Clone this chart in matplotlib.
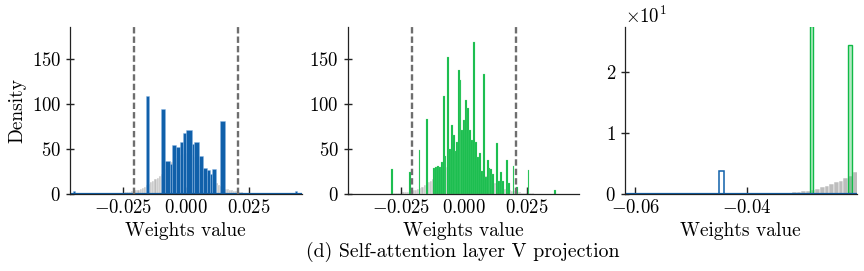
import numpy as np
import matplotlib
matplotlib.use("Agg")
import matplotlib.pyplot as plt
from matplotlib.ticker import MultipleLocator

plt.rcParams['font.family'] = 'serif'
plt.rcParams['font.serif'] = ['cmr10']
plt.rcParams['mathtext.fontset'] = 'cm'
plt.rcParams['axes.formatter.use_mathtext'] = True
plt.rcParams['font.size'] = 13.5

# original weights (grey), density on a fine regular grid
GREY_LO, GREY_HI = -0.04197, 0.04203
grey_density = [
    0.03, 0.04, 0.05, 0.06, 0.07, 0.08, 0.10, 0.12, 0.14, 0.17, 0.20, 0.24, 0.30,
    0.38, 0.44, 0.55, 0.66, 0.87, 1.09, 1.37, 1.58, 1.91, 2.19, 2.57, 2.95, 3.56,
    4.2, 4.9, 5.9, 7.0,
    8.2, 9.6, 11.2, 12.9, 14.6, 16.4, 18.2, 20.2, 22.4, 24.8,
    27.3, 29.9, 32.5, 35.0, 37.4, 39.6, 41.5, 43.1, 44.3, 45.0, 45.0, 44.3, 43.0,
    41.0, 38.5, 35.5, 32.0, 28.5, 25.0, 22.0, 19.5, 17.5, 15.5,
    13.6, 11.8, 10.0, 8.5, 7.1, 6.1, 5.3, 4.6, 4.0, 3.5, 3.0, 2.6, 2.2, 1.9, 1.5, 1.3, 1.1,
    0.9, 0.75, 0.62, 0.52, 0.43, 0.36, 0.30, 0.25, 0.21, 0.17, 0.14, 0.12, 0.10, 0.08,
    0.07, 0.06, 0.05, 0.04, 0.03, 0.03,
]

# quantized weights, method A (blue)
blue_left = [-0.0449, -0.0160, -0.0099, -0.0082, -0.0065, -0.0056, -0.0040, -0.0023,
             -0.0012, 0.0001, 0.0023, 0.0032, 0.0049, 0.0065, 0.0081, 0.0095, 0.0102,
             0.0136, 0.0430]
blue_right = [-0.0441, -0.01455, -0.0085, -0.0065, -0.0056, -0.0040, -0.0023, -0.0012,
              0.0001, 0.0023, 0.0032, 0.0049, 0.0065, 0.0081, 0.0095, 0.0102, 0.0118,
              0.0152, 0.0438]
blue_density = [3.8, 108.4, 94.6, 36.7, 33.8, 54.8, 52.2, 57.7, 67.6, 71.3, 55.1, 57.3,
                42.0, 28.3, 26.5, 21.7, 27.2, 80.8, 3.7]

# quantized weights, method B (green)
green_center = [-0.02837, -0.02147, -0.01754, -0.01452, -0.01194, -0.01115, -0.01036,
                -0.00956, -0.00877, -0.00802, -0.00726, -0.00627, -0.00552, -0.00476,
                -0.00401, -0.00325, -0.00274, -0.00198, -0.00131, -0.00060, 0.00012,
                0.00087, 0.00163, 0.00238, 0.00306, 0.00405, 0.00480, 0.00556, 0.00631,
                0.00706, 0.00790, 0.00865, 0.00940, 0.01016, 0.01091, 0.01159, 0.01306,
                0.01397, 0.01476, 0.01536, 0.01694, 0.01774, 0.01968, 0.02091, 0.02560,
                0.03599]
green_density = [27.6, 24.5, 49.0, 83.0, 29.0, 30.0, 31.0, 30.0, 36.0, 108.0, 42.0,
                 152.0, 50.0, 76.0, 65.0, 48.0, 58.0, 137.0, 126.0, 71.0, 82.0, 104.0,
                 95.0, 71.0, 60.0, 168.0, 58.0, 41.0, 45.0, 25.0, 132.6, 19.0, 38.0,
                 29.0, 28.0, 22.0, 56.0, 14.0, 24.0, 14.0, 38.0, 12.0, 31.0, 8.0, 27.0,
                 4.7]

clip_bound = 0.0205

BLUE = '#1060aa'
GREEN = '#0fba46'
GREY = '#bdbdbd'
GREEN_W = 0.00075


def draw_grey(ax):
    edges = np.linspace(GREY_LO, GREY_HI, len(grey_density) + 1)
    ax.bar(edges[:-1], grey_density, width=np.diff(edges), align='edge',
           color=GREY, edgecolor='white', linewidth=0.35, zorder=1)


def style(ax):
    for s in ['top', 'right']:
        ax.spines[s].set_visible(False)
    for s in ['left', 'bottom']:
        ax.spines[s].set_color('#222222')
        ax.spines[s].set_linewidth(0.9)
    ax.tick_params(axis='x', direction='in', length=5, width=1, color='#222222')
    ax.tick_params(axis='y', direction='inout', length=6, width=1, color='#222222')
    ax.set_xlabel('Weights value', fontsize=14)


fig = plt.figure(figsize=(8.64, 2.71), dpi=100)
w, h, b = 0.268, 0.616, 0.284
ax1 = fig.add_axes([0.081, b, w, h])
ax2 = fig.add_axes([0.4024, b, w, h])
ax3 = fig.add_axes([0.7234, b, w, h])

# panel 1
draw_grey(ax1)
ax1.bar(blue_left, blue_density, width=np.subtract(blue_right, blue_left), align='edge',
        color=BLUE, edgecolor=(0.55, 0.72, 0.9, 0.6), linewidth=0.5, zorder=2)
ax1.axhline(0, color=BLUE, lw=1.6, zorder=2)
ax1.set_ylabel('Density', fontsize=14)

# panel 2
draw_grey(ax2)
ax2.bar(green_center, green_density, width=GREEN_W, color=GREEN,
        edgecolor=(0.5, 0.88, 0.6, 0.6), linewidth=0.3, zorder=2)

for ax in (ax1, ax2):
    for xv in (-clip_bound, clip_bound):
        ax.axvline(xv, color='#6e6e6e', lw=1.7, ls=(0, (2.7, 1.3)), zorder=3)
    ax.set_xlim(-0.046, 0.0457)
    ax.set_ylim(0, 184.8)
    ax.xaxis.set_major_locator(MultipleLocator(0.025))
    ax.yaxis.set_major_locator(MultipleLocator(50))
    style(ax)

# panel 3: zoom into the left tail
draw_grey(ax3)
ax3.bar(blue_left, blue_density, width=np.subtract(blue_right, blue_left), align='edge',
        facecolor=(1, 1, 1, 0.9), edgecolor=BLUE, linewidth=1.1, zorder=2)
ax3.bar(green_center, green_density, width=GREEN_W * 0.8, facecolor=(0.06, 0.73, 0.27, 0.3),
        edgecolor=GREEN, linewidth=1.0, zorder=2)
ax3.axhline(0, color=BLUE, lw=1.6, zorder=2)
ax3.set_xlim(-0.0618, -0.0203)
ax3.set_ylim(0, 27.4)
ax3.xaxis.set_major_locator(MultipleLocator(0.02))
ax3.yaxis.set_major_locator(MultipleLocator(10))
ax3.ticklabel_format(axis='y', style='sci', scilimits=(0, 0))
style(ax3)

fig.text(0.536, 0.07, '(d) Self-attention layer V projection', ha='center', va='center',
         fontsize=14.3)

fig.savefig('out.png', dpi=100)
